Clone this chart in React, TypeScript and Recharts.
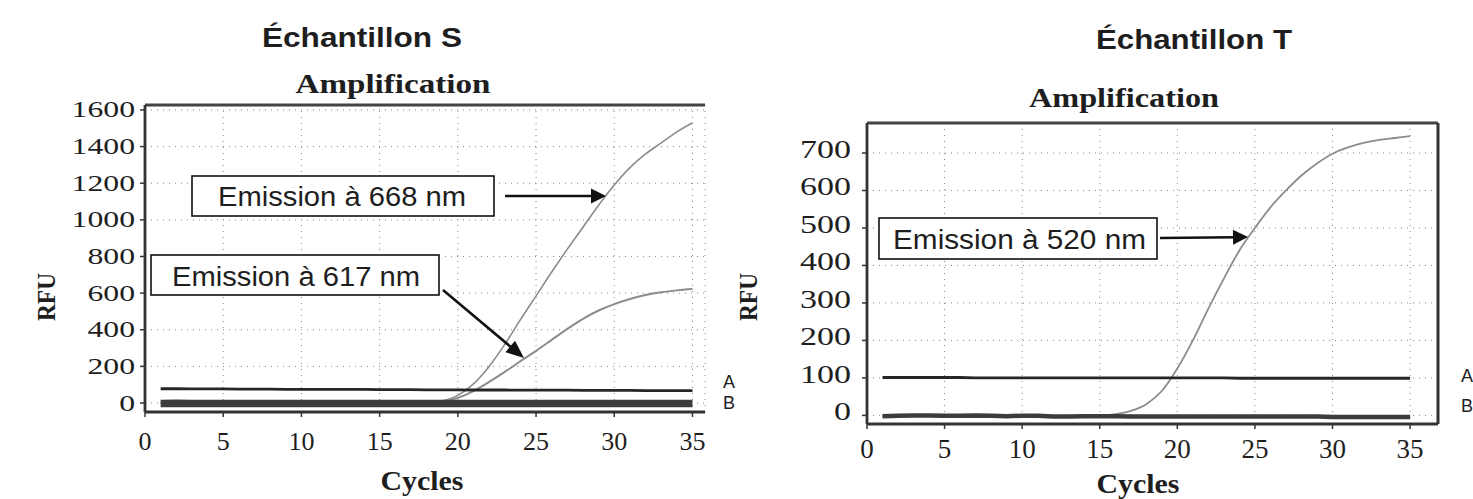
import React from 'react';
import { LineChart, Line, XAxis, YAxis, CartesianGrid } from 'recharts';

// ---------- DATA ----------
const cycles = [1, 2, 3, 4, 5, 6, 7, 8, 9, 10, 11, 12, 13, 14, 15, 16, 17, 18, 19, 20, 21, 22, 23, 24, 25, 26, 27, 28, 29, 30, 31, 32, 33, 34, 35];

// Échantillon S
const sLineA = [78, 78, 77, 77, 77, 76, 76, 76, 75, 75, 75, 74, 74, 74, 73, 73, 73, 72, 72, 72, 71, 71, 71, 70, 70, 70, 70, 69, 69, 69, 69, 68, 68, 68, 68];
const sLineB = [-2, -1, -2, -2, -2, -2, -2, -2, -2, -2, -2, -2, -2, -2, -2, -2, -2, -2, -2, -2, -3, -3, -3, -3, -3, -3, -3, -3, -3, -3, -3, -3, -3, -3, -3];
const sEm617 = [0, 0, 0, 0, 0, 0, 0, 0, 0, 0, 0, 0, 0, 0, 0, 0, 0, 1, 8, 28, 65, 115, 170, 228, 285, 345, 405, 460, 505, 540, 568, 590, 605, 615, 622];
const sEm668 = [0, 0, 0, 0, 0, 0, 0, 0, 0, 0, 0, 0, 0, 0, 0, 0, 0, 2, 12, 42, 105, 200, 320, 455, 585, 715, 840, 960, 1080, 1190, 1285, 1360, 1420, 1480, 1530];

// Échantillon T
const tLineA = [101, 101, 101, 101, 101, 101, 100, 100, 100, 100, 100, 100, 100, 100, 100, 100, 100, 100, 100, 100, 100, 100, 100, 99, 99, 99, 99, 99, 99, 99, 99, 99, 99, 99, 99];
const tLineB = [-2, -1, 0, 0, -1, -1, 0, -1, -2, -1, -1, -3, -3, -2, -2, -2, -3, -3, -3, -3, -3, -3, -3, -3, -3, -3, -3, -3, -3, -4, -4, -4, -4, -4, -4];
const tEm520 = [-2, -2, -2, -2, -2, -2, -2, -2, -2, -2, -2, -3, -3, -2, -1, 3, 12, 30, 65, 125, 200, 285, 365, 440, 500, 555, 600, 640, 672, 698, 715, 727, 735, 740, 745];

const xTickLabels = [0, 5, 10, 15, 20, 25, 30, 35];
const sYTickLabels = [0, 200, 400, 600, 800, 1000, 1200, 1400, 1600];
const tYTickLabels = [0, 100, 200, 300, 400, 500, 600, 700];

const xMinorTicks = Array.from({ length: 36 }, (_, i) => i);
const sYMinorTicks = Array.from({ length: 33 }, (_, i) => i * 50);
const tYMinorTicks = Array.from({ length: 39 }, (_, i) => -20 + i * 20);

const leftData = cycles.map((c, i) => ({ cycle: c, A: sLineA[i], B: sLineB[i], e617: sEm617[i], e668: sEm668[i] }));
const rightData = cycles.map((c, i) => ({ cycle: c, A: tLineA[i], B: tLineB[i], e520: tEm520[i] }));

// ---------- STYLE ----------
const INK = '#1e1e1e';
const AXIS = '#333';
const CURVE = '#8c8c8c';
const SERIF = '"Liberation Serif", "DejaVu Serif", serif';
const SANS = '"Liberation Sans", Arial, sans-serif';

const makeYTick = (fs: number, sx: number, dx: number, dy: number) => (p: any) => (
  <text
    transform={`translate(${p.x + dx},${p.y + dy}) scale(${sx},1)`}
    textAnchor="end"
    fontFamily={SERIF}
    fontSize={fs}
    fill={INK}
  >
    {p.payload.value}
  </text>
);

const makeXTick = (fs: number, dy: number) => (p: any) => (
  <text x={p.x} y={p.y + dy} textAnchor="middle" fontFamily={SERIF} fontSize={fs} fill={INK}>
    {p.payload.value}
  </text>
);

const Arrow = ({ x1, y1, x2, y2, len = 16, half = 7 }: any) => {
  const dx = x2 - x1;
  const dy = y2 - y1;
  const d = Math.sqrt(dx * dx + dy * dy);
  const ux = dx / d;
  const uy = dy / d;
  const bx = x2 - ux * len;
  const by = y2 - uy * len;
  const pts = `${x2},${y2} ${bx - uy * half},${by + ux * half} ${bx + uy * half},${by - ux * half}`;
  return (
    <g>
      <line x1={x1} y1={y1} x2={bx + ux * 2} y2={by + uy * 2} stroke="#111" strokeWidth={2.5} />
      <polygon points={pts} fill="#111" />
    </g>
  );
};

const axisLine = { stroke: AXIS, strokeWidth: 2.8 };
const tickLine = { stroke: AXIS, strokeWidth: 1.5 };

export default function App() {
  return (
    <div style={{ position: 'absolute', left: 0, top: 0, width: 1473, height: 499, background: '#fff', overflow: 'hidden' }}>
      {/* Left chart: Échantillon S */}
      <div style={{ position: 'absolute', left: 0, top: 0 }}>
        <LineChart width={740} height={499} data={leftData} margin={{ top: 105, right: 35, bottom: 57, left: 0 }}>
          <CartesianGrid stroke="#888" strokeDasharray="1 5" strokeWidth={1} />
          <XAxis
            xAxisId="top"
            orientation="top"
            mirror
            height={1}
            type="number"
            dataKey="cycle"
            domain={[0, 35.8]}
            allowDataOverflow
            ticks={xMinorTicks}
            tick={false}
            tickSize={4}
            axisLine={{ stroke: '#444', strokeWidth: 3 }}
            tickLine={tickLine}
          />
          <XAxis
            xAxisId="minor"
            mirror
            height={1}
            type="number"
            dataKey="cycle"
            domain={[0, 35.8]}
            allowDataOverflow
            ticks={xMinorTicks}
            tick={false}
            tickSize={4}
            axisLine={false}
            tickLine={tickLine}
          />
          <YAxis
            yAxisId="minor"
            mirror
            width={1}
            type="number"
            domain={[-49, 1627]}
            allowDataOverflow
            ticks={sYMinorTicks}
            tick={false}
            tickSize={4}
            axisLine={false}
            tickLine={tickLine}
          />
          <XAxis
            dataKey="cycle"
            type="number"
            domain={[0, 35.8]}
            allowDataOverflow
            ticks={xTickLabels}
            height={30}
            tickSize={5}
            tickMargin={0}
            axisLine={axisLine}
            tickLine={tickLine}
            tick={makeXTick(26, 33)}
          />
          <YAxis
            type="number"
            domain={[-49, 1627]}
            allowDataOverflow
            ticks={sYTickLabels}
            width={145}
            tickSize={5}
            tickMargin={0}
            axisLine={axisLine}
            tickLine={tickLine}
            tick={makeYTick(23, 1.38, -5, 7.5)}
          />
          <Line xAxisId="top" yAxisId="minor" dataKey="A" stroke="none" dot={false} isAnimationActive={false} />
          <Line xAxisId="minor" yAxisId="minor" dataKey="A" stroke="none" dot={false} isAnimationActive={false} />
          <Line type="monotone" dataKey="e668" stroke={CURVE} strokeWidth={1.6} dot={false} isAnimationActive={false} />
          <Line type="monotone" dataKey="e617" stroke={CURVE} strokeWidth={2} dot={false} isAnimationActive={false} />
          <Line type="linear" dataKey="B" stroke="#3c3c3c" strokeWidth={7.5} dot={false} isAnimationActive={false} />
          <Line type="linear" dataKey="A" stroke="#262626" strokeWidth={2.8} dot={false} isAnimationActive={false} />
        </LineChart>
      </div>

      {/* Right chart: Échantillon T */}
      <div style={{ position: 'absolute', left: 740, top: 0 }}>
        <LineChart width={733} height={499} data={rightData} margin={{ top: 123, right: 35, bottom: 45, left: 0 }}>
          <CartesianGrid stroke="#888" strokeDasharray="1 5" strokeWidth={1} />
          <XAxis
            xAxisId="top"
            orientation="top"
            mirror
            height={1}
            type="number"
            dataKey="cycle"
            domain={[0, 36.8]}
            allowDataOverflow
            ticks={xMinorTicks}
            tick={false}
            tickSize={4}
            axisLine={{ stroke: '#444', strokeWidth: 3 }}
            tickLine={tickLine}
          />
          <XAxis
            xAxisId="minor"
            mirror
            height={1}
            type="number"
            dataKey="cycle"
            domain={[0, 36.8]}
            allowDataOverflow
            ticks={xMinorTicks}
            tick={false}
            tickSize={4}
            axisLine={false}
            tickLine={tickLine}
          />
          <YAxis
            yAxisId="minor"
            mirror
            width={1}
            type="number"
            domain={[-23, 780]}
            allowDataOverflow
            ticks={tYMinorTicks}
            tick={false}
            tickSize={4}
            axisLine={false}
            tickLine={tickLine}
          />
          <YAxis
            yAxisId="right"
            orientation="right"
            mirror
            width={1}
            type="number"
            domain={[-23, 780]}
            allowDataOverflow
            ticks={tYMinorTicks}
            tick={false}
            tickSize={4}
            axisLine={{ stroke: '#333', strokeWidth: 3 }}
            tickLine={tickLine}
          />
          <XAxis
            dataKey="cycle"
            type="number"
            domain={[0, 36.8]}
            allowDataOverflow
            ticks={xTickLabels}
            height={30}
            tickSize={5}
            tickMargin={0}
            axisLine={axisLine}
            tickLine={tickLine}
            tick={makeXTick(27, 29)}
          />
          <YAxis
            type="number"
            domain={[-23, 780]}
            allowDataOverflow
            ticks={tYTickLabels}
            width={127}
            tickSize={5}
            tickMargin={0}
            axisLine={axisLine}
            tickLine={tickLine}
            tick={makeYTick(25, 1.36, -11, 5)}
          />
          <Line xAxisId="top" yAxisId="minor" dataKey="A" stroke="none" dot={false} isAnimationActive={false} />
          <Line xAxisId="minor" yAxisId="right" dataKey="A" stroke="none" dot={false} isAnimationActive={false} />
          <Line type="monotone" dataKey="e520" stroke={CURVE} strokeWidth={1.8} dot={false} isAnimationActive={false} />
          <Line type="linear" dataKey="B" stroke="#3c3c3c" strokeWidth={4.5} dot={false} isAnimationActive={false} />
          <Line type="linear" dataKey="A" stroke="#262626" strokeWidth={2.8} dot={false} isAnimationActive={false} />
        </LineChart>
      </div>

      {/* Overlay: titles, labels, annotations */}
      <svg width={1473} height={499} style={{ position: 'absolute', left: 0, top: 0, pointerEvents: 'none' }}>
        <text x={362} y={47} textAnchor="middle" fontFamily={SANS} fontWeight="bold" fontSize={28} fill={INK} textLength={200} lengthAdjust="spacingAndGlyphs">Échantillon S</text>
        <text x={1194} y={49} textAnchor="middle" fontFamily={SANS} fontWeight="bold" fontSize={28} fill={INK} textLength={196} lengthAdjust="spacingAndGlyphs">Échantillon T</text>

        <text x={393} y={93} textAnchor="middle" fontFamily={SERIF} fontWeight="bold" fontSize={27} fill={INK} textLength={195} lengthAdjust="spacingAndGlyphs">Amplification</text>
        <text x={1124} y={107} textAnchor="middle" fontFamily={SERIF} fontWeight="bold" fontSize={27} fill={INK} textLength={190} lengthAdjust="spacingAndGlyphs">Amplification</text>

        <text transform="translate(46,297) rotate(-90)" dy="0.35em" textAnchor="middle" fontFamily={SERIF} fontWeight="bold" fontSize={25} fill={INK} textLength={48} lengthAdjust="spacingAndGlyphs">RFU</text>
        <text transform="translate(748,297) rotate(-90)" dy="0.35em" textAnchor="middle" fontFamily={SERIF} fontWeight="bold" fontSize={25} fill={INK} textLength={48} lengthAdjust="spacingAndGlyphs">RFU</text>

        <text x={422} y={490} textAnchor="middle" fontFamily={SERIF} fontWeight="bold" fontSize={27} fill={INK} textLength={83} lengthAdjust="spacingAndGlyphs">Cycles</text>
        <text x={1138} y={493} textAnchor="middle" fontFamily={SERIF} fontWeight="bold" fontSize={27} fill={INK} textLength={83} lengthAdjust="spacingAndGlyphs">Cycles</text>

        {/* Annotation boxes */}
        <rect x={192} y={176} width={302} height={40} fill="#fff" stroke="#111" strokeWidth={1.6} />
        <text x={218} y={206} fontFamily={SANS} fontSize={27} fill={INK} textLength={248} lengthAdjust="spacingAndGlyphs">Emission à 668 nm</text>
        <Arrow x1={505} y1={196} x2={606} y2={196} len={15} half={7.5} />

        <rect x={151} y={255} width={288} height={40} fill="#fff" stroke="#111" strokeWidth={1.6} />
        <text x={172} y={286} fontFamily={SANS} fontSize={27} fill={INK} textLength={248} lengthAdjust="spacingAndGlyphs">Emission à 617 nm</text>
        <Arrow x1={443} y1={290} x2={524} y2={358} len={18} half={7.5} />

        <rect x={879} y={218} width={278} height={41} fill="#fff" stroke="#111" strokeWidth={1.6} />
        <text x={893} y={249} fontFamily={SANS} fontSize={27} fill={INK} textLength={253} lengthAdjust="spacingAndGlyphs">Emission à 520 nm</text>
        <Arrow x1={1160} y1={238} x2={1248} y2={237} len={15} half={7.5} />

        {/* Line labels */}
        <text x={723} y={388} fontFamily={SANS} fontSize={18} fill={INK}>A</text>
        <text x={723} y={409} fontFamily={SANS} fontSize={18} fill={INK}>B</text>
        <text x={1461} y={382} fontFamily={SANS} fontSize={18} fill={INK}>A</text>
        <text x={1461} y={412} fontFamily={SANS} fontSize={18} fill={INK}>B</text>
      </svg>
    </div>
  );
}
